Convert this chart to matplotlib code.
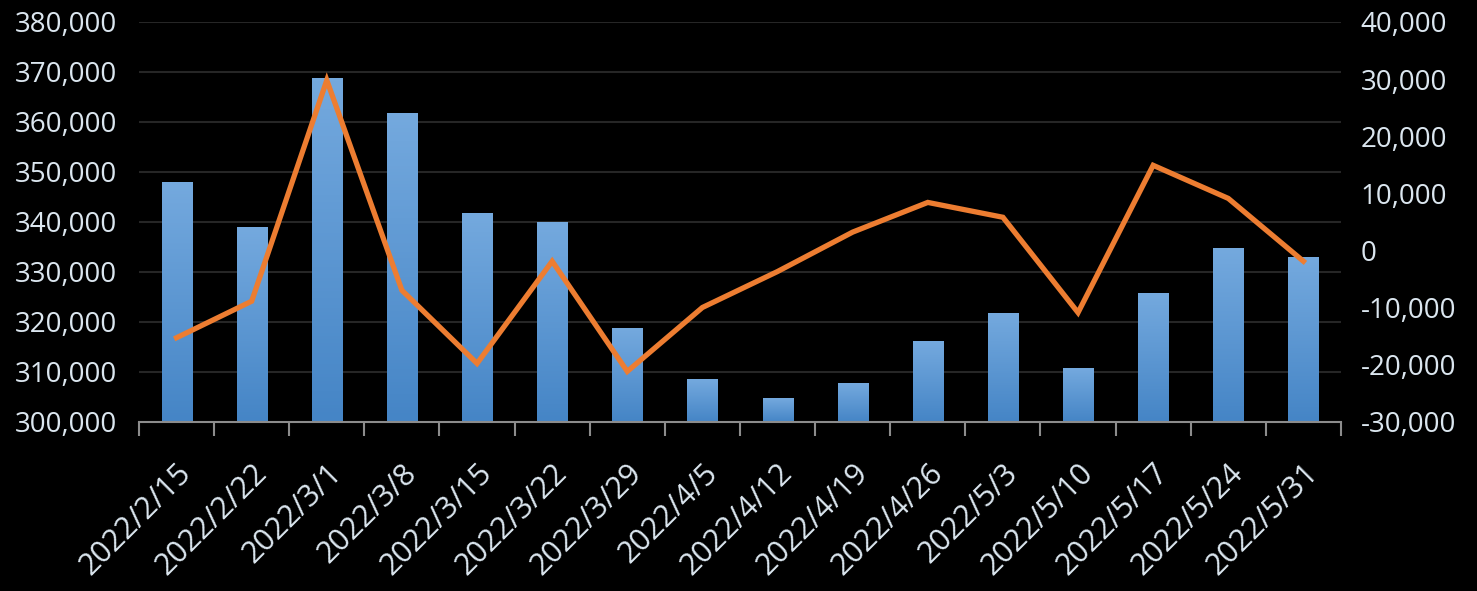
import numpy as np
import matplotlib
matplotlib.use("Agg")
import matplotlib.pyplot as plt
from matplotlib.colors import LinearSegmentedColormap
from matplotlib.ticker import FuncFormatter

dates = ["2022/2/15", "2022/2/22", "2022/3/1", "2022/3/8", "2022/3/15", "2022/3/22",
         "2022/3/29", "2022/4/5", "2022/4/12", "2022/4/19", "2022/4/26", "2022/5/3",
         "2022/5/10", "2022/5/17", "2022/5/24", "2022/5/31"]
bar_vals = [348000, 339000, 368700, 361700, 341700, 339900, 318700, 308500,
            304700, 307700, 316100, 321700, 310700, 325700, 334700, 332900]
line_vals = [-15300, -8900, 29800, -7000, -19800, -1900, -21200, -10000,
             -3700, 3200, 8400, 5800, -10900, 14900, 9100, -1900]

txt = "#dbe6ef"
plt.rcParams["font.family"] = ["Open Sans", "DejaVu Sans"]

fig = plt.figure(figsize=(14.77, 5.91), dpi=100, facecolor="black")
ax = fig.add_axes([0.0941, 0.2865, 0.8138, 0.6763], facecolor="black")
ax2 = ax.twinx()

x = np.arange(len(dates))
w = 0.4
cmap = LinearSegmentedColormap.from_list("bar", ["#4585c6", "#74a9de"])
grad = np.linspace(0, 1, 100).reshape(-1, 1)
bars = ax.bar(x, bar_vals, width=w, bottom=0, color="none", zorder=2)
for b in bars:
    bx, bw, bh = b.get_x(), b.get_width(), b.get_height()
    ax.imshow(grad, cmap=cmap, origin="lower", aspect="auto",
              extent=[bx, bx + bw, 300000, bh], zorder=2)

ax.set_xlim(-0.5, len(dates) - 0.5)
ax.set_ylim(300000, 380000)
ax.set_yticks(np.arange(300000, 380001, 10000))
ax.yaxis.set_major_formatter(FuncFormatter(lambda v, p: f"{int(v):,}"))
ax.grid(axis="y", color="#262626", linewidth=1.5, zorder=0)
ax.set_axisbelow(True)

ax.set_xticks(x)
ax.set_xticklabels(dates, rotation=45, ha="right", rotation_mode="anchor",
                   fontsize=22, color=txt)
ax.set_xticks(np.arange(-0.5, len(dates)), minor=True)
ax.tick_params(axis="x", which="major", length=0, pad=26)
ax.tick_params(axis="x", which="minor", length=10, width=1.5, color="#8c8c8c")
ax.tick_params(axis="y", length=0, labelsize=20, labelcolor=txt, pad=16)

ax2.plot(x, line_vals, color="#ed7d31", linewidth=3.8, zorder=3,
         solid_joinstyle="miter")
ax2.set_ylim(-30000, 40000)
ax2.set_yticks(np.arange(-30000, 40001, 10000))
ax2.yaxis.set_major_formatter(FuncFormatter(lambda v, p: f"{int(v):,}"))
ax2.tick_params(axis="y", length=0, labelsize=20, labelcolor=txt, pad=14)

for a in (ax, ax2):
    for s in a.spines.values():
        s.set_visible(False)
ax.spines["bottom"].set_visible(True)
ax.spines["bottom"].set_color("#8c8c8c")
ax.spines["bottom"].set_linewidth(1.5)

fig.savefig("out.png", dpi=100, facecolor="black")
